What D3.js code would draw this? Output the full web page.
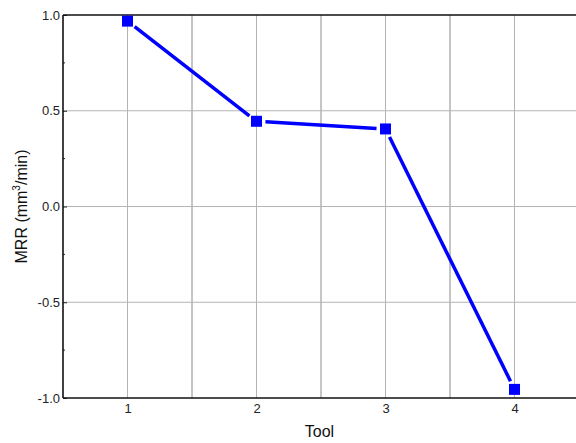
<!DOCTYPE html>
<html>
<head>
<meta charset="utf-8">
<script src="https://cdn.jsdelivr.net/npm/d3@7"></script>
<style>
  html, body { margin: 0; padding: 0; background: #fff; }
  svg { display: block; font-family: "Liberation Sans", Arial, sans-serif; }
</style>
</head>
<body>
<svg id="chart" width="576" height="443"></svg>
<script>
// Material removal rate per tool
const tools = [1, 2, 3, 4];
const mrr = [0.968, 0.445, 0.405, -0.955];
const yTicks = [-1.0, -0.5, 0.0, 0.5, 1.0];
const xTicks = [1, 2, 3, 4];

const svg = d3.select("#chart");
const margin = { left: 63, top: 15, bottom: 45 };
const W = 576, H = 443;

const x = d3.scaleLinear().domain([0.5, 4.5]).range([margin.left, margin.left + 4 * 129]);
const y = d3.scaleLinear().domain([-1, 1]).range([398, margin.top]);

// grid: vertical lines at every half step, horizontal at interior major ticks
const vGrid = d3.range(1, 4.51, 0.5);
svg.append("g").selectAll("line").data(vGrid).join("line")
  .attr("x1", d => x(d)).attr("x2", d => x(d))
  .attr("y1", y(1)).attr("y2", y(-1))
  .attr("stroke", d => Number.isInteger(d) ? "#b4b4b4" : "#8c8c8c")
  .attr("stroke-width", 1);
svg.append("g").selectAll("line").data(yTicks.filter(d => d > -1 && d < 1)).join("line")
  .attr("x1", x(0.5)).attr("x2", W)
  .attr("y1", d => y(d)).attr("y2", d => y(d))
  .attr("stroke", "#b4b4b4").attr("stroke-width", 1);

// axes (plain hyphen for negatives)
const fmtY = d => d.toFixed(1);
const yAxis = d3.axisLeft(y).tickValues(yTicks).tickFormat(fmtY).tickSize(-4).tickPadding(3);
const gy = svg.append("g").attr("transform", `translate(${x(0.5)},0)`).call(yAxis);
gy.select(".domain").remove();
gy.selectAll("text").attr("font-size", 13).attr("fill", "#222").attr("font-family", "Liberation Sans, Arial, sans-serif");
gy.selectAll("line").attr("stroke", "#222");
// minor ticks on the left axis
svg.append("g").selectAll("line").data(d3.range(-0.75, 1, 0.5)).join("line")
  .attr("x1", x(0.5)).attr("x2", x(0.5) + 2)
  .attr("y1", d => y(d)).attr("y2", d => y(d))
  .attr("stroke", "#222");

const xAxis = d3.axisBottom(x).tickValues(xTicks).tickFormat(d3.format("d")).tickSize(0).tickPadding(6);
const gx = svg.append("g").attr("transform", `translate(0,${y(-1)})`).call(xAxis);
gx.select(".domain").remove();
gx.selectAll("text").attr("font-size", 13).attr("fill", "#222").attr("font-family", "Liberation Sans, Arial, sans-serif");

// frame lines: left, top, bottom
svg.append("line").attr("x1", x(0.5)).attr("x2", x(0.5)).attr("y1", y(1)).attr("y2", y(-1)).attr("stroke", "#111").attr("stroke-width", 1.6);
svg.append("line").attr("x1", x(0.5)).attr("x2", W).attr("y1", y(1)).attr("y2", y(1)).attr("stroke", "#111").attr("stroke-width", 1.6);
svg.append("line").attr("x1", x(0.5)).attr("x2", W).attr("y1", y(-1)).attr("y2", y(-1)).attr("stroke", "#111").attr("stroke-width", 1.6);

// data line, drawn as segments with a small gap next to each marker
const pts = tools.map((t, i) => [x(t), y(mrr[i])]);
const gap = 9;
const segs = d3.pairs(pts).map(([a, b]) => {
  const dx = b[0] - a[0], dy = b[1] - a[1];
  const L = Math.hypot(dx, dy);
  const ux = dx / L, uy = dy / L;
  return [a[0] + ux * gap, a[1] + uy * gap, b[0] - ux * gap, b[1] - uy * gap];
});
svg.append("g").selectAll("line").data(segs).join("line")
  .attr("x1", d => d[0]).attr("y1", d => d[1]).attr("x2", d => d[2]).attr("y2", d => d[3])
  .attr("stroke", "#0000ff").attr("stroke-width", 3.5);

const ms = 11;
svg.append("g").selectAll("rect").data(tools).join("rect")
  .attr("x", (d, i) => x(d) - ms / 2).attr("y", (d, i) => y(mrr[i]) - ms / 2)
  .attr("width", ms).attr("height", ms).attr("fill", "#0000ff");

// axis titles
svg.append("text").attr("x", (x(0.5) + W) / 2).attr("y", 437)
  .attr("text-anchor", "middle").attr("font-size", 16).attr("fill", "#111").text("Tool");

const yl = svg.append("text").attr("transform", `translate(27,${y(0)}) rotate(-90)`)
  .attr("text-anchor", "middle").attr("font-size", 16).attr("fill", "#111");
yl.append("tspan").text("MRR (mm");
yl.append("tspan").attr("font-size", 10).attr("dy", -7).text("3");
yl.append("tspan").attr("dy", 7).text("/min)");
</script>
</body>
</html>
